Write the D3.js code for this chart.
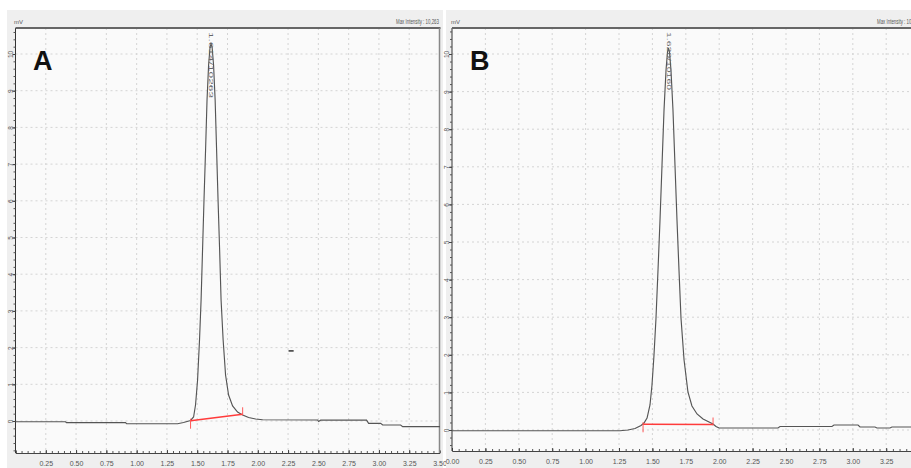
<!DOCTYPE html>
<html>
<head>
<meta charset="utf-8">
<script src="https://cdn.jsdelivr.net/npm/d3@7"></script>
<style>
body{margin:0;background:#fff;}
text{font-family:"Liberation Sans",Arial,sans-serif;}
</style>
</head>
<body>
<svg id="chart" width="911" height="468"></svg>
<script>
// ---- data (time in min, signal in mV) ----
var timeA=[0,0.413,0.421,0.908,0.917,1.338,1.387,1.445,1.470,1.486,1.503,1.519,1.532,1.544,1.556,1.569,1.581,1.594,1.606,1.614,1.623,1.635,1.648,1.660,1.672,1.685,1.697,1.714,1.734,1.759,1.792,1.833,1.875,1.924,1.982,2.040,2.494,2.502,2.519,2.898,2.915,3.014,3.031,3.179,3.196,3.509];
var signalA=[-0.02,-0.02,-0.046,-0.046,-0.074,-0.074,-0.041,0.014,0.109,0.436,1.117,2.207,3.297,4.659,6.022,7.384,8.747,9.70,10.19,10.27,10.19,9.70,8.747,7.384,6.022,4.659,3.297,2.207,1.253,0.708,0.409,0.245,0.163,0.095,0.054,0.033,0.027,-0.014,0.022,0.022,-0.063,-0.063,-0.109,-0.109,-0.155,-0.155];

var timeB=[0,1.257,1.317,1.370,1.415,1.437,1.460,1.482,1.497,1.512,1.527,1.542,1.557,1.572,1.587,1.602,1.613,1.620,1.628,1.639,1.654,1.669,1.684,1.699,1.714,1.737,1.766,1.796,1.834,1.879,1.924,1.954,1.976,1.999,2.440,2.455,2.844,2.859,3.039,3.054,3.166,3.181,3.278,3.293,3.540];
var signalB=[-0.019,-0.019,0,0.040,0.120,0.186,0.319,0.665,1.197,1.995,2.979,4.255,5.585,7.048,8.511,9.574,10.053,10.16,10.053,9.574,8.511,7.048,5.585,4.255,2.979,1.862,1.011,0.638,0.426,0.293,0.213,0.160,0.093,0.053,0.053,0.093,0.093,0.133,0.133,0.080,0.080,0.053,0.053,0.080,0.080];

// integration baselines [start, end] as [time, mV]
var baseA=[[1.445,0.008],[1.875,0.183]];
var baseB=[[1.430,0.152],[1.954,0.146]];

var peakLabelA="1.614/10263";
var peakLabelB="1.620/10160";
var maxLabelA="Max Intensity : 10,263";
var maxLabelB="Max Intensity : 10,160";

var xMajor=d3.range(0,3.51,0.25);
var xMinor=d3.range(0,3.51,0.05);
var yMajor=d3.range(0,11,1);
var yMinor=d3.range(-0.8,10.8,0.2);

var svg=d3.select("#chart");

var panels=[
  {id:"A",bgX:7,bgW:436,x0:15.5,x1:439.5,top:28,bottom:453,y0:421,y10:54,
   time:timeA,signal:signalA,base:baseA,peak:peakLabelA,apex:1.614,maxText:maxLabelA,
   showZero:false,lastLabel:3.5,letterX:33,clipW:424.5,maxX:396,mvX:14},
  {id:"B",bgX:446,bgW:470,x0:452,x1:919.6,top:28,bottom:451,y0:430,y10:54,
   time:timeB,signal:signalB,base:baseB,peak:peakLabelB,apex:1.620,maxText:maxLabelB,
   showZero:true,lastLabel:3.25,letterX:470,clipW:470,maxX:877,mvX:451}
];

panels.forEach(function(p){
  var g=svg.append("g");
  var x=d3.scaleLinear().domain([0,3.5]).range([p.x0,p.x1]);
  var y=d3.scaleLinear().domain([0,10]).range([p.y0,p.y10]);

  g.append("rect").attr("x",p.bgX).attr("y",10).attr("width",p.bgW).attr("height",458)
    .style("fill","#efefef");
  g.append("rect").attr("x",p.x0).attr("y",p.top).attr("width",p.x1-p.x0).attr("height",p.bottom-p.top)
    .style("fill","#fafafa");

  // grid
  g.selectAll(".vg").data(xMajor.filter(function(d){return d>0;})).enter().append("line")
    .attr("x1",function(d){return x(d);}).attr("x2",function(d){return x(d);})
    .attr("y1",p.top).attr("y2",p.bottom)
    .style("stroke","#d4d4d4").style("stroke-dasharray","2,3");
  g.selectAll(".hg").data(yMajor).enter().append("line")
    .attr("x1",p.x0).attr("x2",p.x1)
    .attr("y1",function(d){return y(d);}).attr("y2",function(d){return y(d);})
    .style("stroke","#d4d4d4").style("stroke-dasharray","2,3");

  // bottom axis: minor ticks + labels
  g.append("g").attr("transform","translate(0,"+p.bottom+")")
    .call(d3.axisBottom(x).tickValues(xMinor).tickSize(-2).tickFormat(""))
    .call(function(a){a.select(".domain").style("stroke","#444");a.selectAll("line").style("stroke","#555");});
  g.append("g").attr("transform","translate(0,"+p.bottom+")")
    .call(d3.axisBottom(x).tickValues(xMajor.filter(function(d){return d<=p.lastLabel+0.001;})).tickSize(-3).tickPadding(7)
      .tickFormat(function(d){return (d===0&&!p.showZero)?"":d3.format(".2f")(d);}))
    .call(function(a){
      a.select(".domain").remove();
      a.selectAll("line").style("stroke","#444");
      a.selectAll("text").style("font-size","7px").style("fill","#555")
        .attr("y",8).attr("dy","0.71em");
    });

  // left axis: minor ticks + rotated labels
  g.append("g").attr("transform","translate("+p.x0+",0)")
    .call(d3.axisLeft(y).tickValues(yMinor.filter(function(d){return y(d)>=p.top&&y(d)<=p.bottom;})).tickSize(2).tickFormat(""))
    .call(function(a){
      a.select(".domain").attr("d","M0,"+p.top+"V"+p.bottom).style("stroke","#333");
      a.selectAll("line").style("stroke","#555");
    });
  g.append("g").attr("transform","translate("+p.x0+",0)")
    .call(d3.axisLeft(y).tickValues(yMajor).tickSize(3).tickFormat(d3.format("d")))
    .call(function(a){
      a.select(".domain").remove();
      a.selectAll("line").style("stroke","#444");
      a.selectAll("text").attr("x",0).attr("dy",0)
        .attr("transform","translate(-3,0) rotate(-90)")
        .style("text-anchor","middle").style("font-size","6.5px").style("fill","#555");
    });

  // frame top / right
  g.append("line").attr("x1",p.x0).attr("x2",p.x1+1).attr("y1",p.top).attr("y2",p.top)
    .style("stroke","#666").style("stroke-width",2);
  g.append("line").attr("x1",p.x1).attr("x2",p.x1).attr("y1",p.top).attr("y2",p.bottom)
    .style("stroke","#888").style("stroke-width",1.5);

  // header texts
  g.append("text").attr("x",p.mvX).attr("y",24).text("mV")
    .style("font-size","6px").style("fill","#555");
  g.append("text").attr("x",p.maxX).attr("y",24).text(p.maxText)
    .attr("textLength",43).attr("lengthAdjust","spacingAndGlyphs")
    .style("font-size","7px").style("fill","#555");

  // trace
  var clipId="clip"+p.id;
  g.append("clipPath").attr("id",clipId).append("rect")
    .attr("x",p.x0).attr("y",p.top).attr("width",p.clipW).attr("height",p.bottom-p.top);
  var pts=p.time.map(function(t,i){return [t,p.signal[i]];});
  g.append("path").datum(pts).attr("clip-path","url(#"+clipId+")")
    .attr("d",d3.line().x(function(d){return x(d[0]);}).y(function(d){return y(d[1]);}))
    .style("fill","none").style("stroke","#555").style("stroke-width",1.15);

  // integration baseline + markers
  g.append("line").attr("x1",x(p.base[0][0])).attr("y1",y(p.base[0][1]))
    .attr("x2",x(p.base[1][0])).attr("y2",y(p.base[1][1]))
    .style("stroke","#ff3b3b").style("stroke-width",1.6);
  g.append("line").attr("x1",x(p.base[0][0])).attr("x2",x(p.base[0][0]))
    .attr("y1",y(p.base[0][1])-2).attr("y2",y(p.base[0][1])+8)
    .style("stroke","#ff5a5a").style("stroke-width",1);
  g.append("line").attr("x1",x(p.base[1][0])).attr("x2",x(p.base[1][0]))
    .attr("y1",y(p.base[1][1])-7).attr("y2",y(p.base[1][1])+1)
    .style("stroke","#ff5a5a").style("stroke-width",1);

  // peak label (vertical)
  g.append("text").attr("transform","translate("+(x(p.apex)+0.5)+","+(p.top+4)+") rotate(90)")
    .text(p.peak).attr("textLength",p.id==="A"?66:58).attr("lengthAdjust","spacingAndGlyphs")
    .style("font-size","6px").style("fill","#666").attr("dy","0.35em");

  // panel letter
  g.append("text").attr("x",p.letterX).attr("y",70).text(p.id)
    .style("font-size","27px").style("font-weight","bold").style("fill","#111");

  if(p.id==="A"){
    // small dark mark in the plot
    g.append("line").attr("x1",x(2.254)).attr("x2",x(2.296)).attr("y1",y(1.91)).attr("y2",y(1.91))
      .style("stroke","#333").style("stroke-width",1.5);
  }
});
</script>
</body>
</html>
